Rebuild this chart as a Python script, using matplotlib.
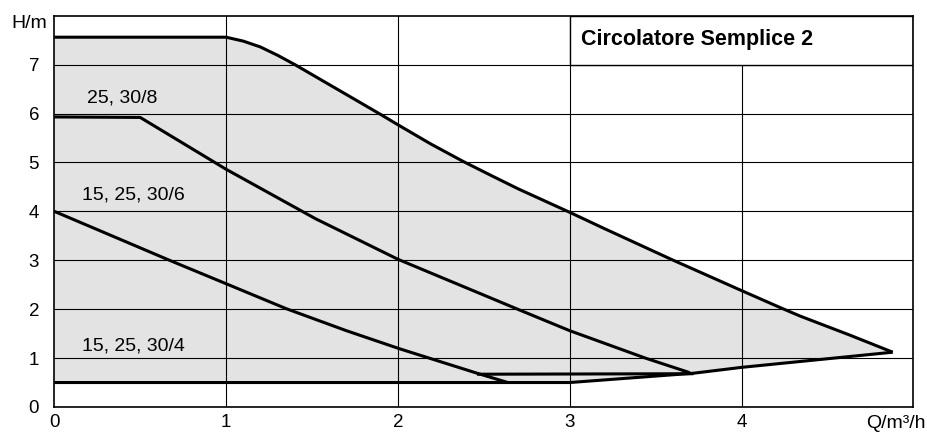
import matplotlib.pyplot as plt
import matplotlib.patches as patches

# pump curves (Q in m3/h, H in m)
max_q = [0, 1.0, 1.1, 1.2, 1.3, 1.4, 1.66, 1.9, 2.0, 2.19, 2.38, 2.55, 2.7, 3.0, 3.2, 3.59, 4.0, 4.22, 4.34, 4.63, 4.88]
max_h = [7.56, 7.56, 7.48, 7.36, 7.19, 7.0, 6.47, 5.98, 5.77, 5.38, 5.02, 4.72, 4.46, 3.98, 3.65, 3.02, 2.38, 2.04, 1.86, 1.47, 1.12]

c8_q = [0, 0.5, 1.0, 1.52, 2.0, 2.71, 3.0, 3.44, 3.70]
c8_h = [5.93, 5.92, 4.86, 3.85, 3.02, 1.98, 1.56, 1.0, 0.70]

c6_q = [0, 0.67, 1.0, 1.35, 1.7, 2.01, 2.47, 2.64]
c6_h = [4.0, 3.0, 2.52, 2.01, 1.56, 1.19, 0.68, 0.5]

min_q = [0, 3.0, 3.72, 4.0, 4.88]
min_h = [0.5, 0.5, 0.69, 0.81, 1.12]

link_q = [2.46, 3.72]
link_h = [0.67, 0.68]

labels = ["25, 30/8", "15, 25, 30/6", "15, 25, 30/4"]
label_q = [0.19, 0.16, 0.16]
label_h = [6.31, 4.34, 1.24]

title = "Circolatore Semplice 2"


def main():
    plt.rcParams['font.family'] = ['Liberation Sans', 'DejaVu Sans']
    fig = plt.figure(figsize=(9.28, 4.32), dpi=100)
    ax = fig.add_axes([0.0585, 0.0579, 0.9257, 0.9058])

    poly_q = max_q + min_q[::-1]
    poly_h = max_h + min_h[::-1]
    ax.fill(poly_q, poly_h, color='#e3e3e3', zorder=1, linewidth=0)

    for x in [1, 2, 3, 4]:
        ax.axvline(x, color='black', linewidth=0.8, zorder=2)
    for y in range(1, 8):
        ax.axhline(y, color='black', linewidth=0.8, zorder=2)

    lw = 2.2
    for q, h in [(max_q, max_h), (c8_q, c8_h), (c6_q, c6_h),
                 (min_q, min_h), (link_q, link_h)]:
        ax.plot(q, h, color='black', linewidth=lw, zorder=4,
                solid_joinstyle='round', solid_capstyle='butt')

    for txt, q, h in zip(labels, label_q, label_h):
        ax.text(q, h, txt, fontsize=14, ha='left', va='center', zorder=5)

    # title box in the top right corner
    box = patches.Rectangle((3, 7), 2, 1, facecolor='white', edgecolor='black',
                            linewidth=1.0, zorder=3)
    ax.add_patch(box)
    ax.text(3.067, 7.52, title, fontsize=15.5, fontweight='bold',
            ha='left', va='center', zorder=5)

    ax.set_xlim(0, 5)
    ax.set_ylim(0, 8)
    ax.set_xticks([0, 1, 2, 3, 4])
    ax.set_yticks(range(0, 8))
    ax.tick_params(length=0, labelsize=13.5)
    ax.tick_params(axis='y', pad=11)
    ax.tick_params(axis='x', pad=5)
    for s in ax.spines.values():
        s.set_linewidth(1.2)
        s.set_zorder(6)

    fig.text(47 / 928, 1 - 24 / 432, "H/m", fontsize=14, ha='right', va='center')
    fig.text(866 / 928, 1 - 423 / 432, "Q/m³/h", fontsize=14, ha='left', va='center')

    fig.savefig("out.png", dpi=100)


if __name__ == '__main__':
    main()
